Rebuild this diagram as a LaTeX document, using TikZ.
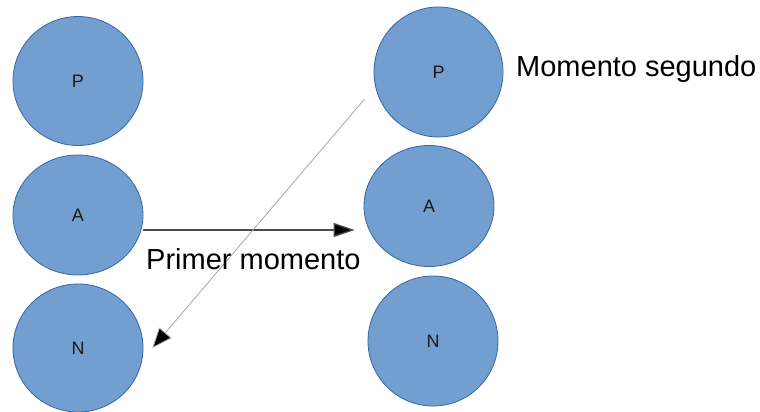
\documentclass[tikz,border=0pt]{standalone}
\usepackage{fontspec}
\setmainfont{Liberation Sans}
\usetikzlibrary{arrows.meta,positioning,calc,shapes.geometric}

\definecolor{relleno}{HTML}{729FCF}
\definecolor{borde}{HTML}{3465A4}

\begin{document}
\begin{tikzpicture}[x=1pt,y=-1pt,
   		estado/.style={ellipse,draw=borde,fill=relleno,line width=0.8pt,inner sep=0pt,text=black!90,font=\fontsize{18}{20}\selectfont},
   		flecha/.style={draw=black!70,line width=1.3pt,-{Triangle[length=21pt,width=14pt,fill=black]}},
   		flechagris/.style={draw=black!35,line width=0.8pt,-{Triangle[length=20pt,width=16pt,fill=black]}},
   		rotulo/.style={font=\fontsize{29}{32}\selectfont,inner sep=0pt}]
   	\useasboundingbox (0,0) rectangle (760,412);
   	% primer momento
   	\path   (78,81)  	node  	(lP) [estado,minimum width=130pt,minimum height=129pt] {P}
   	        (78,215) 	node  	(lA) [estado,minimum width=130pt,minimum height=120pt] {A}
   	        (78,348) 	node  	(lN) [estado,minimum width=130pt,minimum height=128pt] {N};
   	% momento segundo
   	\path   (438.5,72)  node  	(rP) [estado,minimum width=129pt,minimum height=130pt] {P}
   	        (429,206) 	node  	(rA) [estado,minimum width=130pt,minimum height=121pt] {A}
   	        (433,341) 	node  	(rN) [estado,minimum width=130pt,minimum height=130pt] {N};
   	\coordinate (iniA) at ([yshift=-15]lA.east);
   	\draw [flecha,shorten >=9pt] (iniA) -- (iniA -| rA.west);
   	\draw [flechagris] ([shift={(-13,5)}]rP.200) -- ([xshift=9]lN.east);
   	\node [rotulo,anchor=base west] (t1) at (146,269) {Primer momento};
   	\node [rotulo,anchor=base west] (t2) at (516,76) {Momento segundo};
\end{tikzpicture}
\end{document}
